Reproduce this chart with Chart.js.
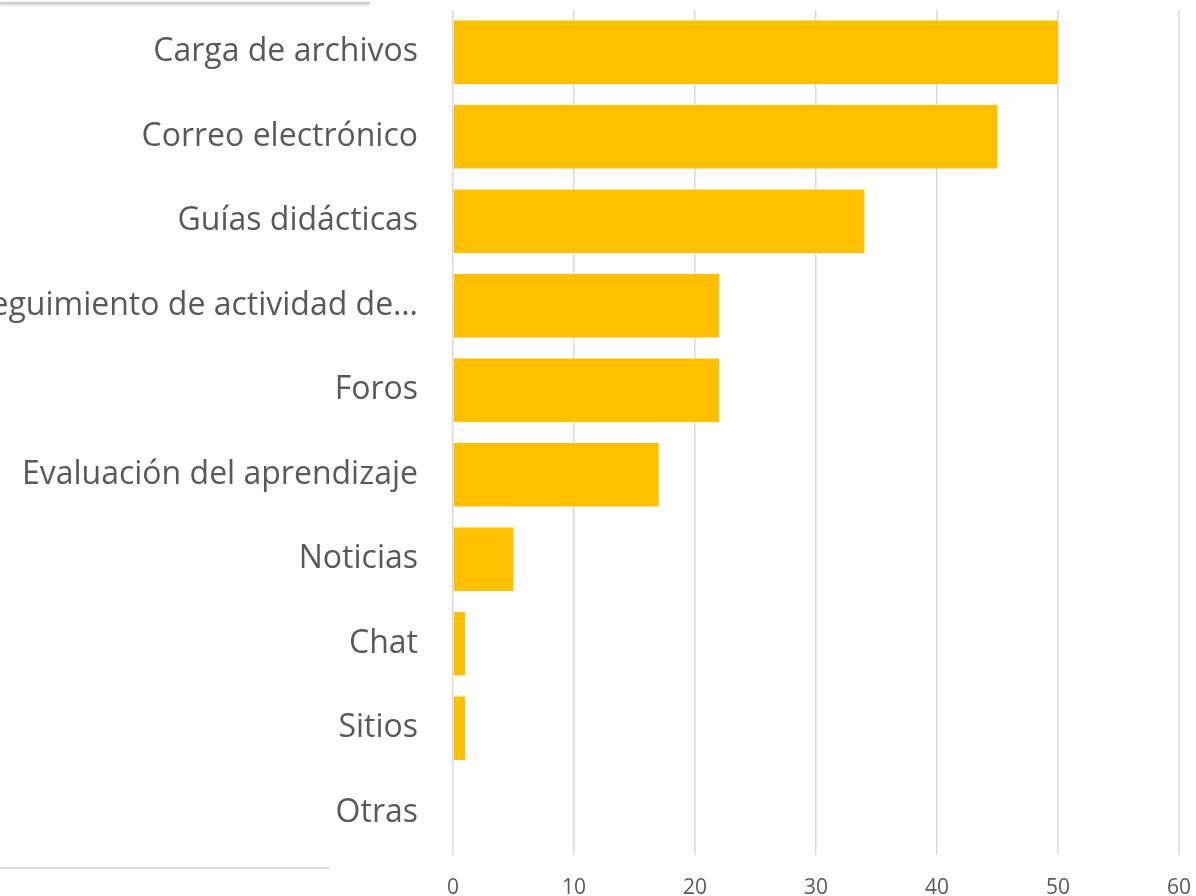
<!DOCTYPE html>
<html>
<head>
<meta charset="utf-8">
<script src="https://cdn.jsdelivr.net/npm/chart.js@4"></script>
<style>
    html, body { margin: 0; padding: 0; background: #fff; overflow: hidden; }
    #wrap { position: relative; width: 1196px; height: 896px; }
    #chartCanvas { position: absolute; left: 0; top: 0; }
    .edgeTop { position: absolute; left: 0; top: 2px; width: 370px; height: 2px; background: #d0d0d0; box-shadow: 0 1px 3px rgba(0,0,0,0.25); }
    .edgeBottom { position: absolute; left: 0; top: 867px; width: 329px; height: 2px; background: #dadada; }
</style>
</head>
<body>
<div id="wrap">
    <canvas id="chartCanvas" width="1196" height="896"></canvas>
    <div class="edgeTop"></div>
    <div class="edgeBottom"></div>
</div>
<script>
const categories = [
    "Carga de archivos",
    "Correo electrónico",
    "Guías didácticas",
    "seguimiento de actividad de…",
    "Foros",
    "Evaluación del aprendizaje",
    "Noticias",
    "Chat",
    "Sitios",
    "Otras"
];
const values = [50, 45, 34, 22, 22, 17, 5, 1, 1, 0];
const tickValues = [0, 10, 20, 30, 40, 50, 60];

const textColor = '#595959';
const gridColor = '#d9d9d9';

const ctx = document.getElementById('chartCanvas').getContext('2d');

// label gaps come from invisible tick marks (tickLength) rather than ticks.padding,
// because ticks.padding also gets added to the chart area padding
let chartInstance = new Chart(ctx, {
    type: 'bar',
    data: {
        labels: categories,
        datasets: [{
            data: values,
            backgroundColor: '#FFC000',
            borderWidth: 0,
            barPercentage: 0.75,
            categoryPercentage: 1.0
        }]
    },
    options: {
        indexAxis: 'y',
        responsive: false,
        animation: false,
        layout: { padding: { top: 10, right: 17, left: 0, bottom: 0 } },
        plugins: {
            legend: { display: false },
            tooltip: { enabled: false }
        },
        scales: {
            x: {
                min: tickValues[0],
                max: tickValues[tickValues.length - 1],
                afterBuildTicks: function(scale) {
                    scale.ticks = tickValues.map(v => ({ value: v }));
                },
                afterFit: function(scale) { scale.height = 41; },
                grid: {
                    color: gridColor,
                    lineWidth: 1.5,
                    drawTicks: true,
                    tickLength: 20,
                    tickColor: 'rgba(0,0,0,0)'
                },
                border: { display: false },
                ticks: {
                    color: textColor,
                    padding: 0,
                    font: { family: 'Open Sans', size: 21 }
                }
            },
            y: {
                afterFit: function(scale) { scale.width = 453; },
                grid: {
                    drawOnChartArea: false,
                    drawTicks: true,
                    tickLength: 35,
                    tickColor: 'rgba(0,0,0,0)'
                },
                border: { display: false },
                ticks: {
                    color: textColor,
                    padding: 0,
                    autoSkip: false,
                    font: { family: 'Open Sans', size: 32, lineHeight: 0.6 }
                }
            }
        }
    }
});
</script>
</body>
</html>
